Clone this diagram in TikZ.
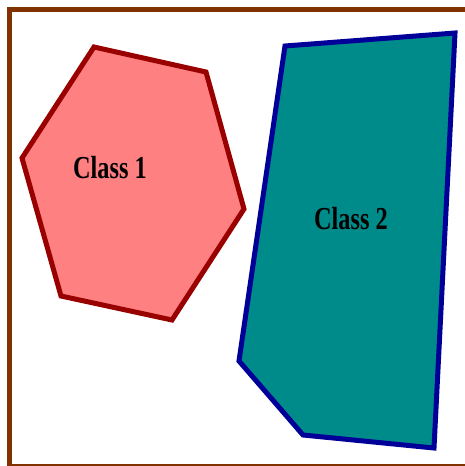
\documentclass[tikz,border=0pt]{standalone}
\usepackage{fontspec}
\setmainfont{Liberation Serif}
\newfontfamily\classfont[FakeStretch=0.76]{Liberation Serif}
\usetikzlibrary{calc}

\definecolor{framebrown}{RGB}{128,51,0}
\definecolor{salmonfill}{RGB}{255,128,128}
\definecolor{darkred}{RGB}{153,0,0}
\definecolor{tealfill}{RGB}{0,139,139}
\definecolor{navyline}{RGB}{0,0,153}

\tikzset{
  region/.style={line width=5pt, line join=miter},
  class label/.style={font=\classfont\bfseries\fontsize{32}{32}\selectfont, inner sep=0pt}
}

\begin{document}
\begin{tikzpicture}[x=1pt,y=-1pt]
  \useasboundingbox (0,0) rectangle (465,466);
  \clip (0,0) rectangle (465,466);
  % outer frame
  \draw[framebrown, line width=5pt] (9.5,9.5) rectangle (490,466.5);
  % class 1 region
  \draw[region, darkred, fill=salmonfill]
    (94,47) -- (206,72) -- (244,209) -- (172,320) -- (61,296) -- (22,158) -- cycle;
  % class 2 region
  \draw[region, navyline, fill=tealfill]
    (285,46) -- (455,33) -- (434,448) -- (303,435) -- (239,361) -- cycle;
  \node[class label] (classone) at (110,168) {Class 1};
  \node[class label] (classtwo) at (351,219) {Class 2};
\end{tikzpicture}
\end{document}
